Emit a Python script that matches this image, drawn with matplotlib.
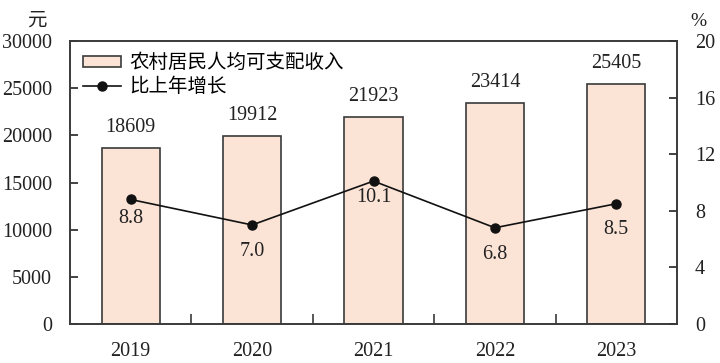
import matplotlib
matplotlib.use("Agg")
import matplotlib.pyplot as plt
from matplotlib.ticker import FixedLocator

plt.rcParams['font.family'] = ['Liberation Serif', 'Noto Sans CJK SC']
plt.rcParams['font.size'] = 14.5

# datos
years = ['2019', '2020', '2021', '2022', '2023']
income = [18609, 19912, 21923, 23414, 25405]
growth = [8.8, 7.0, 10.1, 6.8, 8.5]
growth_labels = ['8.8', '7.0', '10.1', '6.8', '8.5']

label_offsets = [-19, -27, -16, -27, -26]  # px debajo del punto

fig = plt.figure(figsize=(7.2, 3.63), dpi=100)
ax = fig.add_axes([70 / 720, 39 / 363, 607 / 720, 283 / 363])
ax2 = ax.twinx()

x = list(range(len(years)))
bars = ax.bar(x, income, width=0.48, color='#FBE3D6', edgecolor='#3a3a3a', linewidth=1.2,
              label='农村居民人均可支配收入', zorder=2)
for xi, v in zip(x, income):
    ax.annotate(str(v), (xi, v), xytext=(0, 21), textcoords='offset pixels',
                ha='center', va='center', color='#222222')

line, = ax2.plot(x, growth, color='#111111', linewidth=1.2, marker='o', markersize=6.5,
                 label='比上年增长', zorder=3)
for xi, v, t, off in zip(x, growth, growth_labels, label_offsets):
    ax2.annotate(t, (xi, v), xytext=(0, off), textcoords='offset pixels',
                 ha='center', va='center', color='#222222')

ax.set_xlim(-0.5, len(years) - 0.5)
ax.set_ylim(0, 30000)
ax2.set_ylim(0, 20)
ax.set_yticks(range(0, 30001, 5000))
ax2.set_yticks(range(0, 21, 4))
ax.set_xticks(x)
ax.set_xticklabels(years)
ax.xaxis.set_minor_locator(FixedLocator([0.5, 1.5, 2.5, 3.5]))

ax.tick_params(axis='x', which='major', length=0, pad=13, colors='#222222')
ax.tick_params(axis='x', which='minor', direction='in', length=7, width=1.2, color='#3a3a3a')
ax.tick_params(axis='y', direction='in', length=6, width=1.2, pad=13, colors='#222222')
ax2.tick_params(axis='y', direction='in', length=6, width=1.2, pad=13, colors='#222222')

for a in (ax, ax2):
    for s in a.spines.values():
        s.set_color('#3a3a3a')
        s.set_linewidth(1.2)

fig.text(37 / 720, 1 - 21 / 363, '元', ha='center', va='center', color='#222222', fontsize=14)
fig.text(698 / 720, 1 - 21 / 363, '%', ha='center', va='center', color='#222222', fontsize=14)

ax2.legend([bars, line], ['农村居民人均可支配收入', '比上年增长'], loc='upper left',
           frameon=False, bbox_to_anchor=(0.0, 1.0), fontsize=14,
           handlelength=1.95, handleheight=0.52, handletextpad=0.46,
           labelspacing=0.3, borderaxespad=0.25)

fig.savefig('out.png', dpi=100)
